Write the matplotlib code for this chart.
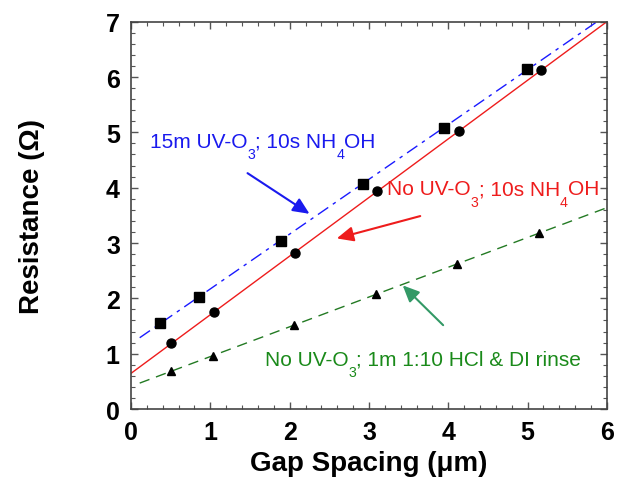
import numpy as np
import matplotlib
matplotlib.use("Agg")
import matplotlib.pyplot as plt
from matplotlib.ticker import MultipleLocator
from matplotlib import transforms

plt.rcParams['font.family'] = ['Liberation Sans', 'DejaVu Sans']

# Data
sq_x = [0.36, 0.86, 1.89, 2.92, 3.95, 4.99]
sq_y = [1.55, 2.03, 3.04, 4.07, 5.08, 6.14]
ci_x = [0.51, 1.05, 2.07, 3.10, 4.14, 5.17]
ci_y = [1.19, 1.76, 2.82, 3.94, 5.02, 6.13]
tr_x = [0.51, 1.03, 2.05, 3.09, 4.11, 5.14]
tr_y = [0.69, 0.96, 1.51, 2.07, 2.62, 3.18]

# label pieces: (text, is_subscript)
label_blue = [("15m UV-O", False), ("3", True), ("; 10s NH", False), ("4", True), ("OH", False)]
label_red = [("No UV-O", False), ("3", True), ("; 10s NH", False), ("4", True), ("OH", False)]
label_green = [("No UV-O", False), ("3", True), ("; 1m 1:10 HCl & DI rinse", False)]

fig = plt.figure(figsize=(6.24, 4.81), dpi=100)
ax = fig.add_axes([0.2099, 0.1476, 0.7628, 0.8052])

# Fit lines
xb = np.linspace(0.11, 6.0, 200)
pb = np.polyfit(sq_x, sq_y, 1)
ax.plot(xb, np.polyval(pb, xb), color='#1a1aff', lw=1.0, dashes=(9, 4, 2.5, 4))
xr = np.linspace(0.0, 6.0, 200)
pr = np.polyfit(ci_x, ci_y, 1)
ax.plot(xr, np.polyval(pr, xr), color='#ee1c1c', lw=1.0)
xg = np.linspace(0.11, 6.0, 200)
pg = np.polyfit(tr_x, tr_y, 1)
ax.plot(xg, np.polyval(pg, xg), color='#237a23', lw=1.0, dashes=(7.5, 5))

ax.plot(sq_x, sq_y, 's', color='black', ms=6.5, zorder=5)
ax.plot(ci_x, ci_y, 'o', color='black', ms=6.5, zorder=5)
ax.plot(tr_x, tr_y, '^', color='black', ms=6, zorder=5)

ax.set_xlim(0, 6)
ax.set_ylim(0, 7)

renderer = fig.canvas.get_renderer()


def rich_text(x, y, pieces, color, size=15):
    cum = 0.0
    for s, sub in pieces:
        fs = size * 0.68 if sub else size
        dy = -size * 0.55 * fig.dpi / 72.0 if sub else 0.0
        tr = transforms.offset_copy(ax.transData, fig=fig, x=cum, y=dy, units='dots')
        t = ax.text(x, y, s, color=color, fontsize=fs, va='baseline', ha='left', transform=tr)
        ex = t.get_window_extent(renderer=renderer)
        cum += ex.width


rich_text(0.24, 4.74, label_blue, '#1a1aee')
rich_text(3.23, 3.88, label_red, '#ee1c1c')
rich_text(1.69, 0.80, label_green, '#1a8a1a')

style = '-|>,head_length=1.0,head_width=0.45'
ax.annotate('', xy=(2.28, 3.50), xytext=(1.44, 4.29),
            arrowprops=dict(arrowstyle=style, color='#1a1aee', lw=1.5))
ax.annotate('', xy=(2.56, 3.07), xytext=(3.68, 3.50),
            arrowprops=dict(arrowstyle=style, color='#ee1c1c', lw=1.5))
ax.annotate('', xy=(3.40, 2.27), xytext=(3.96, 1.48),
            arrowprops=dict(arrowstyle=style, color='#339966', lw=1.5))

ax.xaxis.set_major_locator(MultipleLocator(1))
ax.xaxis.set_minor_locator(MultipleLocator(0.2))
ax.yaxis.set_major_locator(MultipleLocator(1))
ax.yaxis.set_minor_locator(MultipleLocator(0.2))
ax.tick_params(which='both', direction='in', top=True, right=True, color='#555555')
ax.tick_params(which='major', length=5, width=1.0, labelsize=18, pad=8)
ax.tick_params(which='minor', length=3, width=0.8)
for lab in ax.get_xticklabels() + ax.get_yticklabels():
    lab.set_fontweight('bold')
for sp in ax.spines.values():
    sp.set_color('#444444')
    sp.set_linewidth(1.2)

ax.set_xlabel('Gap Spacing (\u03bcm)', fontsize=20, fontweight='bold', labelpad=4)
ax.set_ylabel('Resistance (\u03a9)', fontsize=20, fontweight='bold', labelpad=44)

fig.savefig('out.png', dpi=100)
